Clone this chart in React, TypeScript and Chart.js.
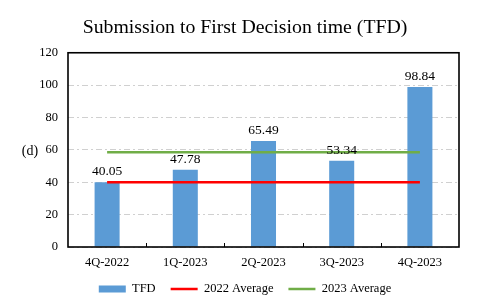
import React, { useEffect, useRef } from "react";
import { Chart, registerables } from "chart.js";

Chart.register(...registerables);

const categories = ["4Q-2022", "1Q-2023", "2Q-2023", "3Q-2023", "4Q-2023"];
const tfdValues = [40.05, 47.78, 65.49, 53.34, 98.84];
const avg2022 = [40, 40, 40, 40, 40];
const avg2023 = [58.6, 58.6, 58.6, 58.6, 58.6];
const seriesNames = ["TFD", "2022 Average", "2023 Average"];
const titleText = "Submission to First Decision time (TFD)";
const yUnitLabel = "(d)";

const SERIF = "'Liberation Serif', 'Times New Roman', serif";
const BAR_COLOR = "#5B9BD5";
const RED = "#FF0000";
const GREEN = "#70AD47";

const framePlugin = {
  id: "frameAndLabels",
  afterDatasetsDraw(chart: any) {
    const ctx = chart.ctx;
    ctx.save();
    const meta = chart.getDatasetMeta(0);
    ctx.font = `13.5px ${SERIF}`;
    ctx.fillStyle = "#000";
    ctx.textAlign = "center";
    ctx.textBaseline = "alphabetic";
    meta.data.forEach((bar: any, i: number) => {
      ctx.fillText(tfdValues[i].toFixed(2), bar.x, bar.y - 7);
    });
    ctx.restore();
  },
  afterDraw(chart: any) {
    const ctx = chart.ctx;
    const area = chart.chartArea;
    const x = chart.scales.x;
    const y = chart.scales.y;
    ctx.save();
    ctx.strokeStyle = "#000";
    ctx.lineWidth = 1.6;
    ctx.strokeRect(area.left, area.top, area.right - area.left, area.bottom - area.top);
    ctx.lineWidth = 1;
    for (let i = 1; i < categories.length; i++) {
      const px = Math.round((x.getPixelForValue(i - 1) + x.getPixelForValue(i)) / 2) + 0.5;
      ctx.beginPath();
      ctx.moveTo(px, area.bottom);
      ctx.lineTo(px, area.bottom - 4);
      ctx.stroke();
    }
    ctx.font = `14px ${SERIF}`;
    ctx.fillStyle = "#000";
    ctx.textAlign = "center";
    ctx.textBaseline = "middle";
    ctx.fillText(yUnitLabel, 30, y.getPixelForValue(60) + 1);
    ctx.restore();
  },
};

export default function App() {
  const ref = useRef<HTMLCanvasElement | null>(null);
  useEffect(() => {
    if (!ref.current) return;
    const chart = new Chart(ref.current, {
      type: "bar",
      data: {
        labels: categories,
        datasets: [
          {
            type: "bar",
            label: seriesNames[0],
            data: tfdValues,
            backgroundColor: BAR_COLOR,
            borderWidth: 0,
            barPercentage: 0.64,
            categoryPercentage: 0.5,
            order: 2,
          } as any,
          {
            type: "line",
            label: seriesNames[1],
            data: avg2022,
            borderColor: RED,
            backgroundColor: RED,
            borderWidth: 2.5,
            pointRadius: 0,
            order: 1,
          } as any,
          {
            type: "line",
            label: seriesNames[2],
            data: avg2023,
            borderColor: GREEN,
            backgroundColor: GREEN,
            borderWidth: 2.5,
            pointRadius: 0,
            order: 0,
          } as any,
        ],
      },
      options: {
        responsive: false,
        animation: false,
        layout: { padding: { left: 3, right: 0, top: 0, bottom: 2.75 } },
        plugins: {
          tooltip: { enabled: false },
          title: {
            display: true,
            text: titleText,
            color: "#000",
            font: { family: SERIF, size: 19.8, weight: "normal" },
            padding: { top: 16, bottom: 13 },
          },
          legend: {
            position: "bottom",
            labels: {
              usePointStyle: true,
              pointStyleWidth: 27,
              boxHeight: 7,
              padding: 15,
              color: "#000",
              font: { family: SERIF, size: 12.5 },
              sort: (a: any, b: any) => a.datasetIndex - b.datasetIndex,
              generateLabels: () => [
                { text: seriesNames[0], fillStyle: BAR_COLOR, strokeStyle: BAR_COLOR, lineWidth: 0, pointStyle: "rect", datasetIndex: 0, hidden: false, fontColor: "#000" },
                { text: seriesNames[1], fillStyle: RED, strokeStyle: RED, lineWidth: 2.5, pointStyle: "line", datasetIndex: 1, hidden: false, fontColor: "#000" },
                { text: seriesNames[2], fillStyle: GREEN, strokeStyle: GREEN, lineWidth: 2.5, pointStyle: "line", datasetIndex: 2, hidden: false, fontColor: "#000" },
              ],
            },
          },
        },
        scales: {
          x: {
            grid: { display: false, drawTicks: false },
            border: { display: false },
            ticks: {
              color: "#000",
              padding: 8,
              font: { family: SERIF, size: 12.5 },
              maxRotation: 0,
            },
            afterFit: (scale: any) => {
              scale.height = 20.75;
            },
          },
          y: {
            min: 0,
            max: 120,
            ticks: {
              stepSize: 20,
              color: "#000",
              padding: 10,
              font: { family: SERIF, size: 12.5 },
            },
            grid: { color: "#d0d0d0", lineWidth: 1, drawTicks: false },
            border: { display: false, dash: [6, 3, 2, 3] },
            afterFit: (scale: any) => {
              scale.width = 65;
            },
          },
          yRight: {
            position: "right",
            display: true,
            ticks: { display: false },
            grid: { display: false, drawTicks: false },
            border: { display: false },
            afterFit: (scale: any) => {
              scale.width = 28;
            },
          },
        },
      },
      plugins: [framePlugin],
    });
    return () => chart.destroy();
  }, []);
  return (
    <div style={{ position: "absolute", left: 0, top: 0, width: 487, height: 308, background: "#fff" }}>
      <canvas ref={ref} width={487} height={308} style={{ display: "block" }} />
    </div>
  );
}
